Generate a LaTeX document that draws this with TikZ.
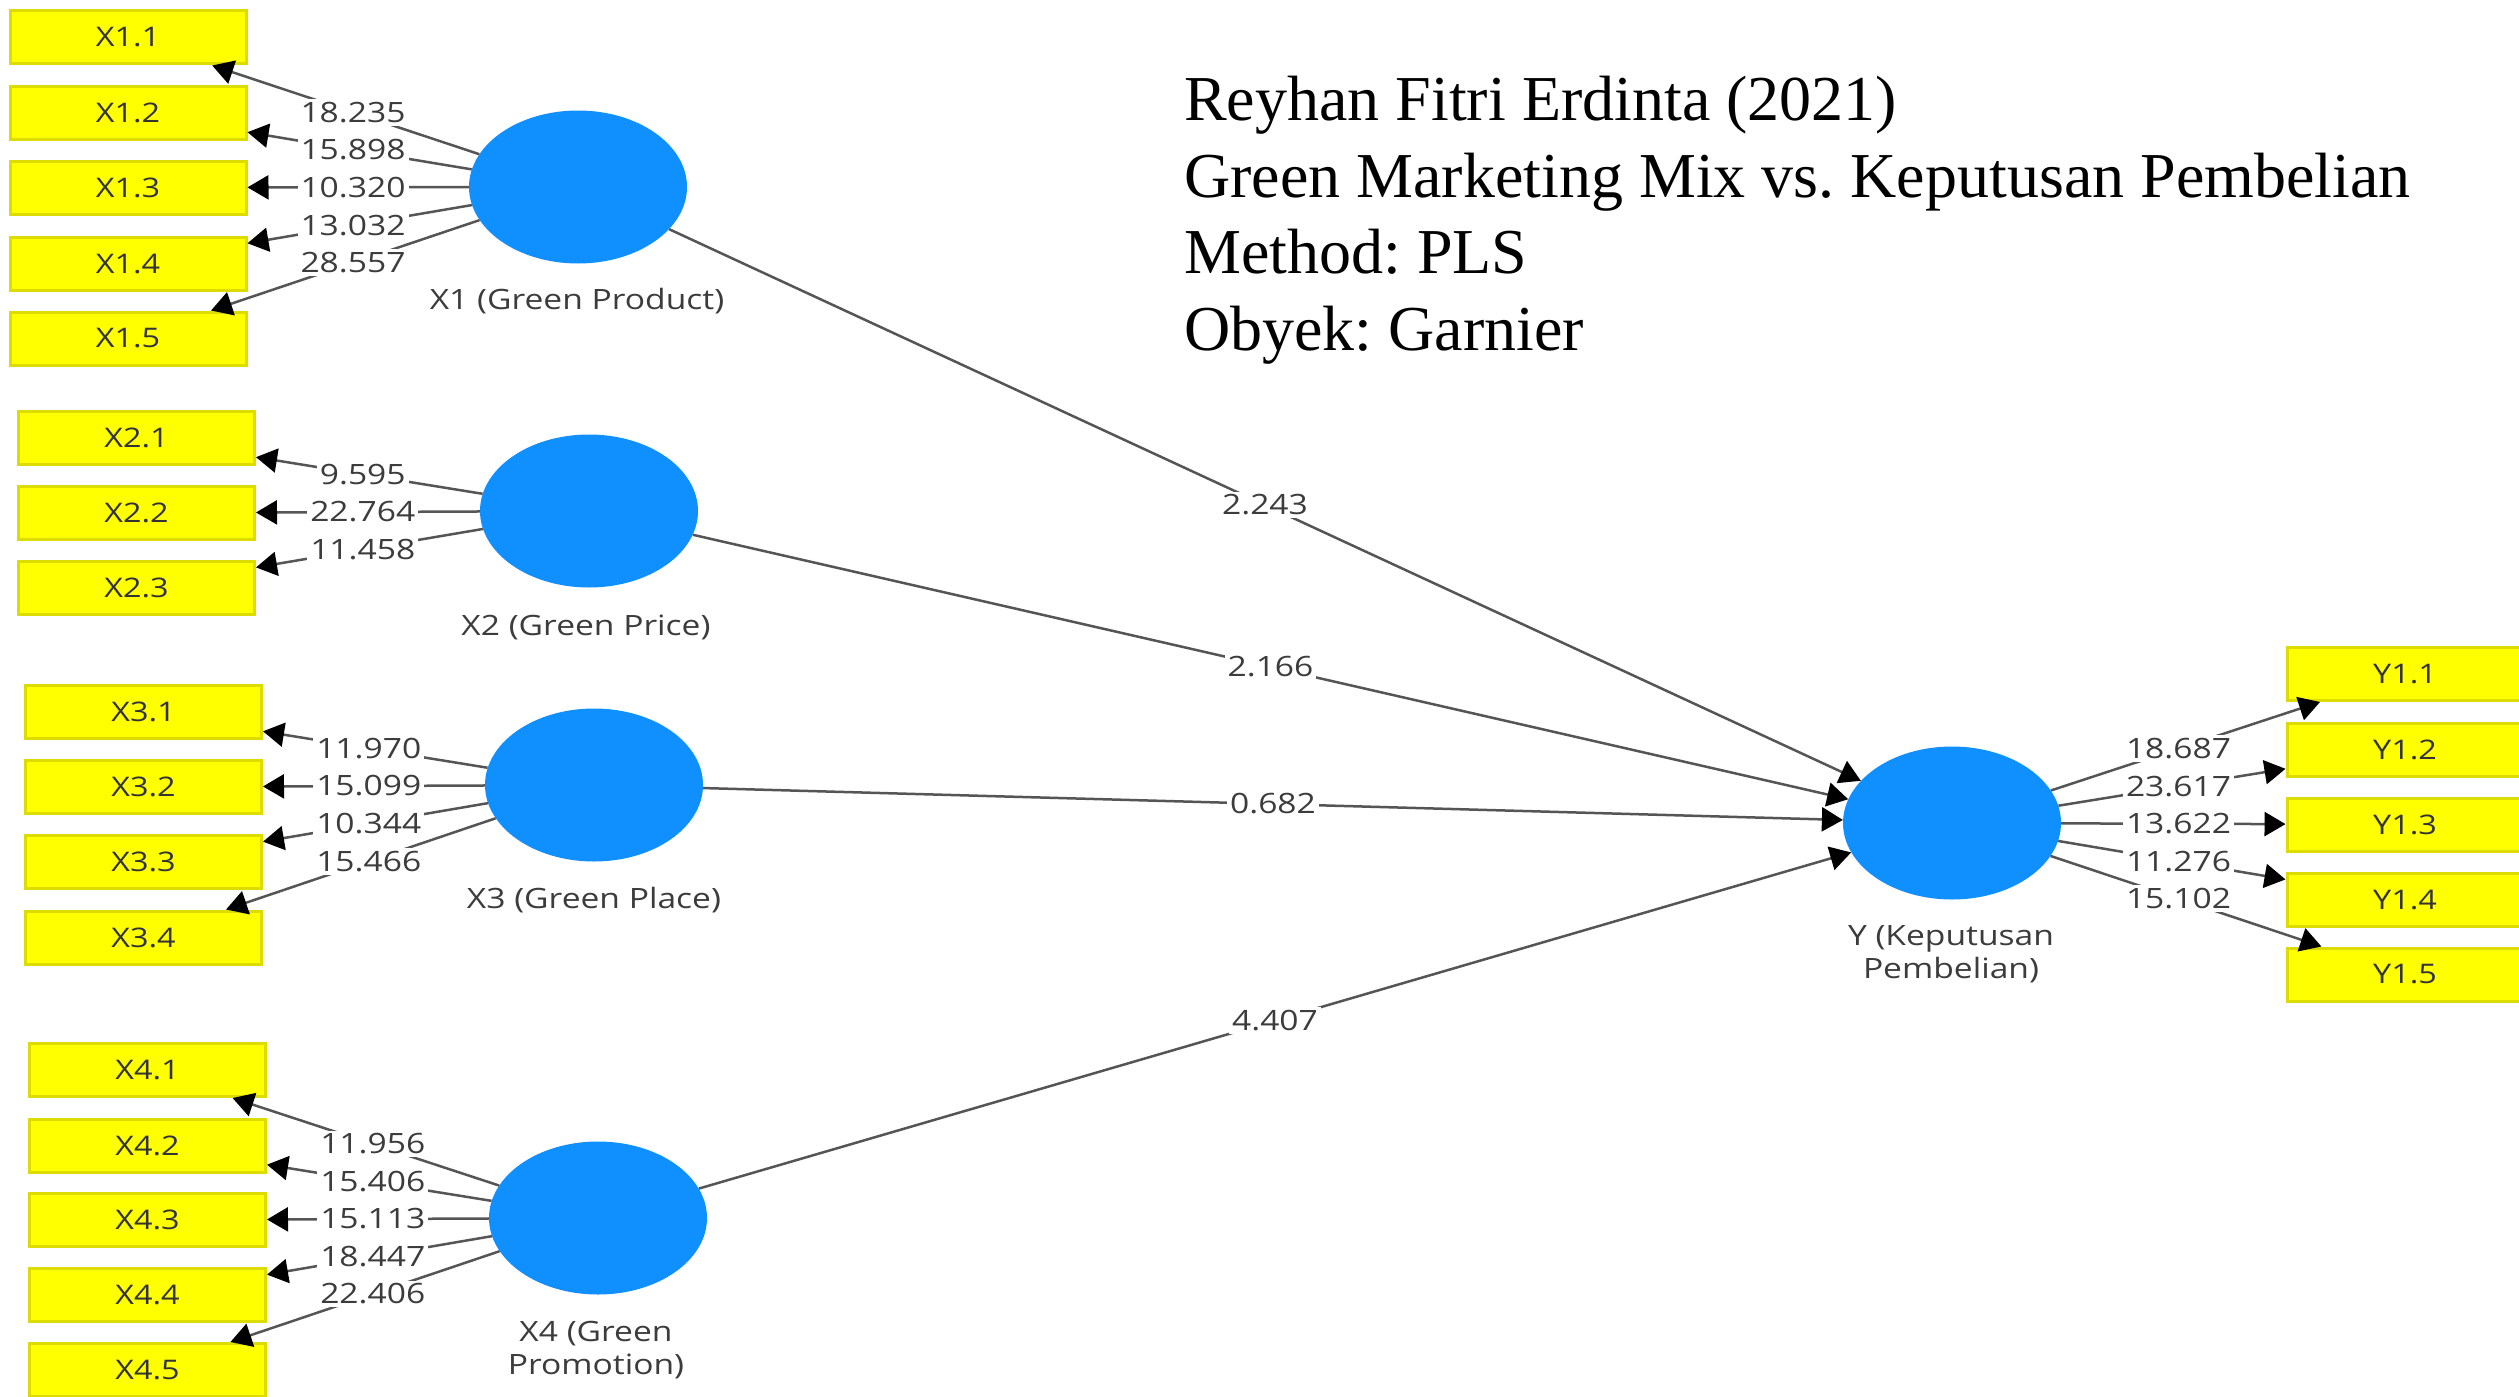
\documentclass[tikz,border=0pt]{standalone}
\usepackage{fontspec}
\usetikzlibrary{shapes.geometric,arrows.meta}
\newfontfamily\plsfont[FakeStretch=1.2]{Open Sans}
\newfontfamily\titlefont{Liberation Serif}
\definecolor{lvblue}{RGB}{16,143,255}
\definecolor{boxyellow}{RGB}{255,255,0}
\definecolor{boxedge}{RGB}{220,220,0}
\definecolor{pathgray}{RGB}{85,85,85}
\definecolor{lbltext}{RGB}{60,60,60}
\tikzset{
  lv/.style={ellipse, fill=lvblue, minimum width=218pt, minimum height=153pt, inner sep=0pt},
  ind/.style={rectangle, fill=boxyellow, draw=boxedge, line width=3pt, minimum width=236pt,
    minimum height=53pt, inner sep=0pt, font=\plsfont\fontsize{27}{30}\selectfont, text=black!80},
  arr/.style={draw=pathgray, line width=2.5pt, -{Triangle[length=21pt,width=24pt,color=black]}},
  lbl/.style={fill=white, inner sep=3pt, font=\plsfont\fontsize{28}{30}\selectfont, text=lbltext},
  lvlbl/.style={align=center, inner sep=0pt, font=\plsfont\fontsize{28}{33}\selectfont, text=lbltext},
  titletext/.style={anchor=base west, inner sep=0pt, font=\titlefont\fontsize{64}{76}\selectfont\frenchspacing, text=black}
}
\begin{document}
\frenchspacing
\begin{tikzpicture}[x=1pt,y=-1pt]
\useasboundingbox (0,0) rectangle (2519,1397);
\clip (0,0) rectangle (2519,1397);
\fill[white] (0,0) rectangle (2519,1397);

% latent variables
\node[lv] (X1) at (578,187) {};
\node[lv] (X2) at (589,511) {};
\node[lv] (X3) at (594,785) {};
\node[lv] (X4) at (598,1218) {};
\node[lv] (Y) at (1952,823) {};

\node[lvlbl] (X1l) at (577,301) {X1 (Green Product)};
\node[lvlbl] (X2l) at (586,627) {X2 (Green Price)};
\node[lvlbl] (X3l) at (594,900) {X3 (Green Place)};
\node[lvlbl] (X4l) at (596,1350) {X4 (Green\\Promotion)};
\node[lvlbl] (Yl) at (1951,954) {Y (Keputusan\\Pembelian)};

% indicators
\node[ind] (X11) at (128,37.5) {X1.1};
\node[ind] (X12) at (128,112.5) {X1.2};
\node[ind] (X13) at (128,187.5) {X1.3};
\node[ind] (X14) at (128,263.5) {X1.4};
\node[ind] (X15) at (128,338.5) {X1.5};

\node[ind] (X21) at (136.5,438) {X2.1};
\node[ind] (X22) at (136.5,513) {X2.2};
\node[ind] (X23) at (136.5,587.5) {X2.3};

\node[ind] (X31) at (143.5,712) {X3.1};
\node[ind] (X32) at (143.5,787) {X3.2};
\node[ind] (X33) at (143.5,862) {X3.3};
\node[ind] (X34) at (143.5,937.5) {X3.4};

\node[ind] (X41) at (147.5,1070) {X4.1};
\node[ind] (X42) at (147.5,1145.5) {X4.2};
\node[ind] (X43) at (147.5,1220) {X4.3};
\node[ind] (X44) at (147.5,1295) {X4.4};
\node[ind] (X45) at (147.5,1370) {X4.5};

\node[ind] (Y11) at (2405,674) {Y1.1};
\node[ind] (Y12) at (2405,749.5) {Y1.2};
\node[ind] (Y13) at (2405,824.5) {Y1.3};
\node[ind] (Y14) at (2405,899.5) {Y1.4};
\node[ind] (Y15) at (2405,974.5) {Y1.5};

% connectors
\foreach \s/\t in {X1/X11,X1/X12,X1/X13,X1/X14,X1/X15,
                   X2/X21,X2/X22,X2/X23,
                   X3/X31,X3/X32,X3/X33,X3/X34,
                   X4/X41,X4/X42,X4/X43,X4/X44,X4/X45,
                   Y/Y11,Y/Y12,Y/Y13,Y/Y14,Y/Y15,
                   X1/Y,X2/Y,X3/Y,X4/Y}
  \draw[arr] (\s) -- (\t);

% connector labels
\foreach \s/\t/\v in {X1/X11/18.235,X1/X12/15.898,X1/X13/10.320,X1/X14/13.032,X1/X15/28.557,
                      X2/X21/9.595,X2/X22/22.764,X2/X23/11.458,
                      X3/X31/11.970,X3/X32/15.099,X3/X33/10.344,X3/X34/15.466,
                      X4/X41/11.956,X4/X42/15.406,X4/X43/15.113,X4/X44/18.447,X4/X45/22.406,
                      Y/Y11/18.687,Y/Y12/23.617,Y/Y13/13.622,Y/Y14/11.276,Y/Y15/15.102,
                      X1/Y/2.243,X2/Y/2.166,X3/Y/0.682,X4/Y/4.407}
  \path (\s.center) -- (\t.center) node[midway,lbl] {\v};

% title
\node[titletext] (t1) at (1184,120) {Reyhan Fitri Erdinta (2021)};
\node[titletext] (t2) at (1184,197) {Green Marketing Mix vs. Keputusan Pembelian};
\node[titletext] (t3) at (1184,273) {Method: PLS};
\node[titletext] (t4) at (1184,350) {Obyek: Garnier};
\end{tikzpicture}
\end{document}
